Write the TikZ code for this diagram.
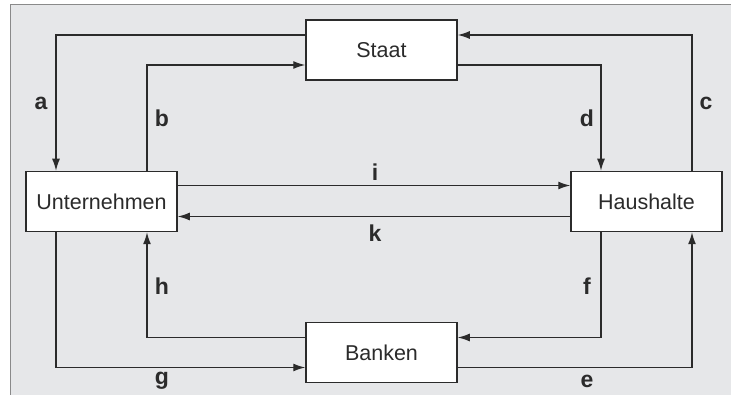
\documentclass[tikz,border=0pt]{standalone}
\usepackage{fontspec}
\setmainfont{Liberation Sans}
\usetikzlibrary{arrows.meta}
\definecolor{bg}{HTML}{E6E7E9}
\definecolor{frame}{HTML}{8A8A8A}
\definecolor{ink}{HTML}{2B2B2B}
\tikzset{
  box/.style={draw=ink, line width=1.5pt, fill=white, minimum width=151pt, minimum height=60pt, inner sep=0pt, font=\fontsize{21.5}{25}\selectfont, text=ink},
  arr/.style={draw=ink, line width=1.3pt, -{Latex[length=12pt,width=8pt]}},
  lab/.style={font=\fontsize{23}{27}\selectfont\bfseries, text=ink, inner sep=0pt}
}
\begin{document}
\begin{tikzpicture}[x=1pt,y=-1pt]
\useasboundingbox (0,0) rectangle (731,395);
\fill[white] (0,0) rectangle (731,395);
\fill[bg] (10.5,4.5) rectangle (731,395);
\draw[frame, line width=1.5pt] (10.5,395) -- (10.5,4.5) -- (731,4.5);

\node[box] (staat) at (381.5,50) {Staat};
\node[box] (unt) at (101.5,201.5) {Unternehmen};
\node[box] (haus) at (646.5,201.5) {Haushalte};
\node[box] (ban) at (381.5,352.5) {Banken};

% a
\draw[arr] ([yshift=15pt]staat.west) -| ([xshift=-45.5pt]unt.north);
% b
\draw[arr] ([xshift=45.5pt]unt.north) |- ([yshift=-15pt]staat.west);
% c
\draw[arr] ([xshift=45.5pt]haus.north) |- ([yshift=15pt]staat.east);
% d
\draw[arr] ([yshift=-15pt]staat.east) -| ([xshift=-45.5pt]haus.north);
% i
\draw[arr] ([yshift=16pt]unt.east) -- ([yshift=16pt]haus.west);
% k
\draw[arr] ([yshift=-15pt]haus.west) -- ([yshift=-15pt]unt.east);
% g
\draw[arr] ([xshift=-45.5pt]unt.south) |- ([yshift=-15pt]ban.west);
% h
\draw[arr] ([yshift=15pt]ban.west) -| ([xshift=45.5pt]unt.south);
% f
\draw[arr] ([xshift=-45.5pt]haus.south) |- ([yshift=15pt]ban.east);
% e
\draw[arr] ([yshift=-15pt]ban.east) -| ([xshift=45.5pt]haus.south);

\node[lab] (la) at (41,103) {a};
\node[lab] (lb) at (162,118) {b};
\node[lab] (lc) at (706,103) {c};
\node[lab] (ld) at (587,118) {d};
\node[lab] (li) at (375,172) {i};
\node[lab] (lk) at (375,233) {k};
\node[lab] (lh) at (162,286) {h};
\node[lab] (lf) at (587,286) {f};
\node[lab] (lg) at (162,381) {g};
\node[lab] (le) at (587,381) {e};
\end{tikzpicture}
\end{document}
